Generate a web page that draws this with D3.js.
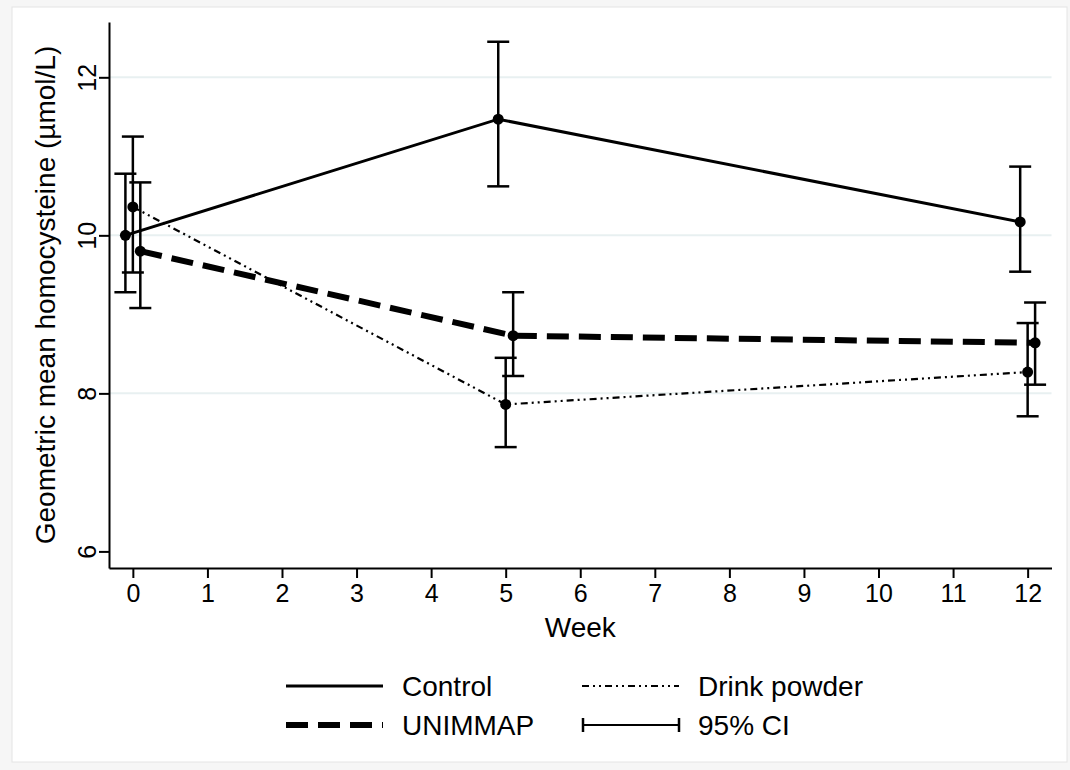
<!DOCTYPE html>
<meta charset="utf-8">
<style>
body { margin: 0; background: #f6f6f6; }
text { font-family: "Liberation Sans", Arial, sans-serif; fill: #000; }
.grid line { stroke: #e8f0f1; stroke-width: 2px; }
</style>
<svg width="1070" height="770"></svg>
<script src="https://d3js.org/d3.v7.min.js"></script>
<script>

var weeks = [0, 5, 12];
var yTicks = [6, 8, 10, 12];
var xTicks = d3.range(0, 13);

var controlMean = [10.00, 11.47, 10.17];
var controlLo   = [9.28, 10.62, 9.54];
var controlHi   = [10.78, 12.45, 10.87];

var unimmapMean = [9.80, 8.73, 8.64];
var unimmapLo   = [9.08, 8.22, 8.11];
var unimmapHi   = [10.67, 9.28, 9.15];

var drinkMean = [10.36, 7.86, 8.27];
var drinkLo   = [9.53, 7.32, 7.71];
var drinkHi   = [11.25, 8.45, 8.89];

// series are shifted a little on the week axis so the bars don't overlap
var series = [
  {name: "Control", shift: -0.1, mean: controlMean, lo: controlLo, hi: controlHi, width: 3, dash: null},
  {name: "Drink powder", shift: 0, mean: drinkMean, lo: drinkLo, hi: drinkHi, width: 2.2, dash: "7,4,2,4,2,4"},
  {name: "UNIMMAP", shift: 0.1, mean: unimmapMean, lo: unimmapLo, hi: unimmapHi, width: 6, dash: "22,10"}
];

var svg = d3.select("svg");

svg.append("rect")
    .attr("x", 12).attr("y", 7)
    .attr("width", 1055).attr("height", 755)
    .attr("fill", "#fff")
    .attr("stroke", "#e4e4e4");

var x = d3.scaleLinear().domain([-0.32, 12.32]).range([109, 1051.5]);
var y = d3.scaleLinear().domain([5.79, 12.7]).range([568, 22]);

svg.append("g")
    .attr("class", "grid")
  .selectAll("line")
  .data([8, 10, 12])
  .enter().append("line")
    .attr("x1", x.range()[0]).attr("x2", x.range()[1])
    .attr("y1", function(d) { return y(d); })
    .attr("y2", function(d) { return y(d); });

var xAxis = svg.append("g")
    .attr("transform", "translate(0," + y.range()[0] + ")")
    .call(d3.axisBottom(x).tickValues(xTicks).tickSize(10).tickPadding(6).tickSizeOuter(0));
xAxis.select(".domain").attr("stroke-width", 2);
xAxis.selectAll(".tick line").attr("stroke-width", 2);
xAxis.selectAll("text").style("font-size", "25px").attr("font-family", null);

var yAxis = svg.append("g")
    .attr("transform", "translate(" + x.range()[0] + ",0)")
    .call(d3.axisLeft(y).tickValues(yTicks).tickFormat(d3.format("d")).tickSize(10).tickSizeOuter(0));
yAxis.select(".domain").attr("stroke-width", 2);
yAxis.selectAll(".tick line").attr("stroke-width", 2);
yAxis.selectAll("text")
    .style("font-size", "25px")
    .attr("font-family", null)
    .attr("x", null).attr("dy", null)
    .attr("text-anchor", "middle")
    .attr("transform", "translate(-13,0) rotate(-90)");

svg.append("text")
    .attr("x", x(6)).attr("y", 637)
    .attr("text-anchor", "middle")
    .style("font-size", "28px")
    .text("Week");

svg.append("text")
    .attr("transform", "translate(55," + (y.range()[0] + y.range()[1]) / 2 + ") rotate(-90)")
    .attr("text-anchor", "middle")
    .style("font-size", "28px")
    .text("Geometric mean homocysteine (\u00b5mol/L)");

var line = d3.line()
    .x(function(d) { return x(d.week); })
    .y(function(d) { return y(d.mean); });

series.forEach(function(s) {
  var pts = weeks.map(function(w, i) {
    return {week: w + s.shift, mean: s.mean[i], lo: s.lo[i], hi: s.hi[i]};
  });
  s.pts = pts;

  var g = svg.append("g");
  g.selectAll("line.bar")
    .data(pts)
    .enter().append("line")
      .attr("x1", function(d) { return x(d.week); })
      .attr("x2", function(d) { return x(d.week); })
      .attr("y1", function(d) { return y(d.lo); })
      .attr("y2", function(d) { return y(d.hi); })
      .attr("stroke", "#000").attr("stroke-width", 2.5);
  ["lo", "hi"].forEach(function(k) {
    g.selectAll("line.cap" + k)
      .data(pts)
      .enter().append("line")
        .attr("x1", function(d) { return x(d.week) - 11; })
        .attr("x2", function(d) { return x(d.week) + 11; })
        .attr("y1", function(d) { return y(d[k]); })
        .attr("y2", function(d) { return y(d[k]); })
        .attr("stroke", "#000").attr("stroke-width", 2.5);
  });
});

series.forEach(function(s) {
  svg.append("path")
      .datum(s.pts)
      .attr("d", line)
      .attr("fill", "none")
      .attr("stroke", "#000")
      .attr("stroke-width", s.width)
      .attr("stroke-dasharray", s.dash);
  svg.append("g").selectAll("circle")
    .data(s.pts)
    .enter().append("circle")
      .attr("cx", function(d) { return x(d.week); })
      .attr("cy", function(d) { return y(d.mean); })
      .attr("r", 5.5)
      .attr("fill", "#000");
});

// legend
var legendItems = [
  {label: "Control", col: 0, row: 0, type: "line", s: series[0]},
  {label: "Drink powder", col: 1, row: 0, type: "line", s: series[1]},
  {label: "UNIMMAP", col: 0, row: 1, type: "line", s: series[2]},
  {label: "95% CI", col: 1, row: 1, type: "ci"}
];

var legend = svg.append("g").selectAll("g")
  .data(legendItems)
  .enter().append("g")
    .attr("transform", function(d) { return "translate(" + (286 + d.col * 296) + "," + (686 + d.row * 39) + ")"; });

legend.each(function(d) {
  var g = d3.select(this);
  if (d.type === "line") {
    g.append("line")
        .attr("x1", 0).attr("x2", 97)
        .attr("stroke", "#000")
        .attr("stroke-width", d.s.width)
        .attr("stroke-dasharray", d.s.dash);
  } else {
    g.append("line").attr("x1", 1).attr("x2", 97).attr("stroke", "#000").attr("stroke-width", 2);
    g.append("line").attr("x1", 1).attr("x2", 1).attr("y1", -7).attr("y2", 7).attr("stroke", "#000").attr("stroke-width", 2.5);
    g.append("line").attr("x1", 97).attr("x2", 97).attr("y1", -7).attr("y2", 7).attr("stroke", "#000").attr("stroke-width", 2.5);
  }
  g.append("text")
      .attr("x", 116).attr("y", 10)
      .style("font-size", "28px")
      .text(d.label);
});

</script>
